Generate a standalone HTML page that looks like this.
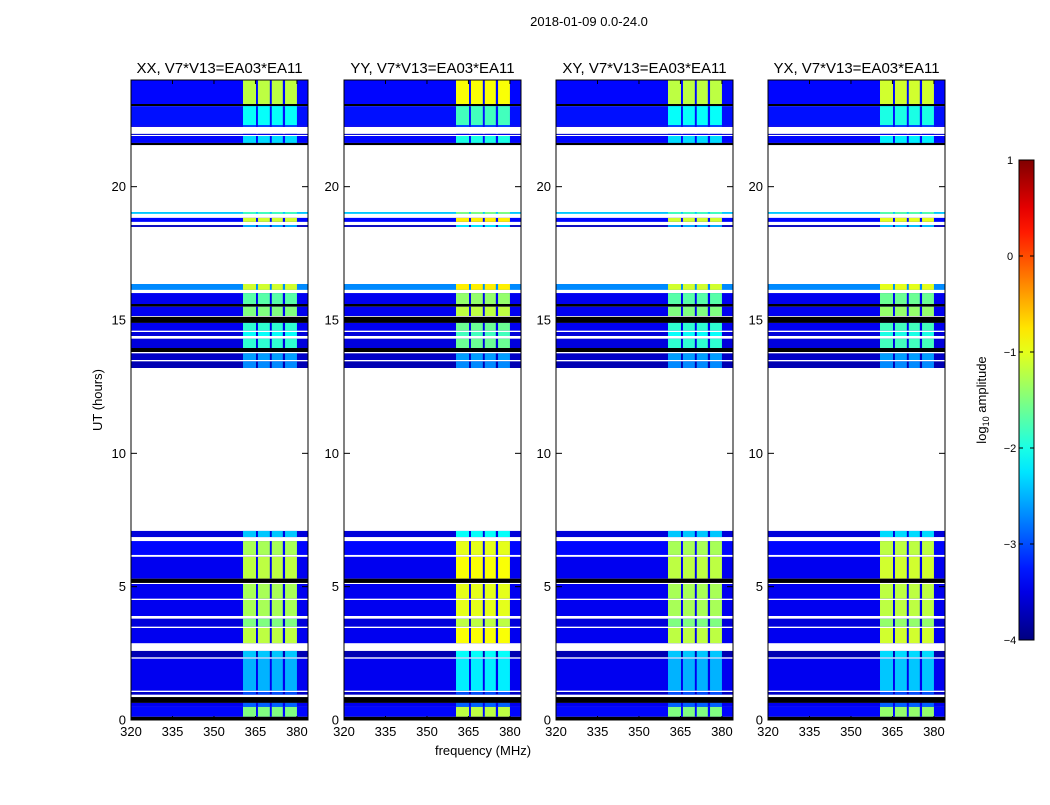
<!DOCTYPE html>
<html><head><meta charset="utf-8"><style>
body{margin:0;background:#fff;font-family:"Liberation Sans",sans-serif}
svg text{font-family:"Liberation Sans","DejaVu Sans",sans-serif}
</style></head><body>
<svg id="chart" width="1050" height="800" xmlns="http://www.w3.org/2000/svg">
<rect width="1050" height="800" fill="#fff"/>
<text x="589" y="26" font-size="13" text-anchor="middle">2018-01-09 0.0-24.0</text>
<text x="483" y="755" font-size="13" text-anchor="middle">frequency (MHz)</text>
<text x="102" y="400" font-size="13" text-anchor="middle" transform="rotate(-90 102 400)">UT (hours)</text>
<g id="panels"></g>
<g id="cbar"></g>
<text x="986" y="400" font-size="13" text-anchor="middle" transform="rotate(-90 986 400)">log<tspan font-size="9" dy="3">10</tspan><tspan dy="-3"> amplitude</tspan></text>
</svg>
<script>
const panelTitles=["XX, V7*V13=EA03*EA11","YY, V7*V13=EA03*EA11","XY, V7*V13=EA03*EA11","YX, V7*V13=EA03*EA11"];
const panelBandOffset=[0,0.3,0,0.1];
const xTicks=[320,335,350,365,380];
const yTicks=[0,5,10,15,20];
const cbarTicks=[1,0,-1,-2,-3,-4];
const bandRanges=[[360.5,365.2],[365.9,370.2],[370.9,374.9],[375.7,380]];
// [startHour, endHour, background log-amp, band log-amp]
const segments=[
[24.0,23.10,-3.35,-1.2],[23.10,23.02,-4.6,-4.6],[23.02,22.31,-3.3,-2.1],[22.31,22.24,-3.45,-3.0],
[21.98,21.94,-3.6,-3.5],[21.90,21.64,-3.35,-2.3],[21.64,21.56,-4.6,-4.6],
[19.05,18.98,-2.4,-1.8],[18.83,18.68,-3.35,-1.1],[18.56,18.49,-3.7,-2.5],
[16.35,16.13,-2.7,-1.1],[16.01,15.6,-3.45,-1.7],[15.6,15.5,-4.6,-4.6],[15.5,15.15,-3.45,-1.5],
[15.12,14.89,-4.6,-4.6],[14.89,14.6,-3.45,-1.9],[14.55,14.4,-3.55,-2.1],[14.3,13.95,-3.55,-1.9],
[13.95,13.8,-4.6,-4.6],[13.75,13.5,-3.65,-2.6],[13.45,13.2,-3.75,-2.7],
[7.09,6.86,-3.55,-2.4],[6.71,6.19,-3.35,-1.3],[6.12,5.3,-3.45,-1.2],[5.3,5.14,-4.6,-4.6],
[5.1,4.55,-3.45,-1.3],[4.5,3.9,-3.45,-1.3],[3.8,3.5,-3.55,-1.5],[3.45,2.88,-3.45,-1.2],
[2.59,2.35,-3.75,-2.4],[2.3,1.1,-3.45,-2.5],[1.05,0.95,-3.65,-3.0],[0.86,0.64,-4.6,-4.6],
[0.64,0.49,-3.45,-2.9],[0.49,0.12,-3.35,-1.5],[0.12,0,-4.6,-4.6]
];
const NS="http://www.w3.org/2000/svg";
const panelLefts=[131,344,556,768],PW=177,PT=80,PB=720;
const fMin=320,fMax=384;
function jet(v){
  if(v<=-4.5) return "#000";
  let t=Math.max(0,Math.min(1,(v+4)/5));
  const f=x=>Math.round(255*Math.max(0,Math.min(1,x)));
  return `rgb(${f(1.5-Math.abs(4*t-3))},${f(1.5-Math.abs(4*t-2))},${f(1.5-Math.abs(4*t-1))})`;
}
function mk(tag,attrs,parent){const e=document.createElementNS(NS,tag);for(const k in attrs)e.setAttribute(k,attrs[k]);parent.appendChild(e);return e;}
const root=document.getElementById("panels");
panelTitles.forEach((title,p)=>{
  const L=panelLefts[p];
  const xs=f=>L+(f-fMin)/(fMax-fMin)*PW;
  const ys=h=>PB-h/24*(PB-PT);
  const g=mk("g",{},root);
  
  
  segments.forEach(s=>{
    const y0=ys(s[0]),y1=ys(s[1]);
    const r=mk("rect",{x:L,y:y0,width:PW,height:Math.max(0.8,y1-y0),fill:jet(s[2])},g);
    
    
    if(s[3]>-4.5){
      bandRanges.forEach(b=>{
        const br=mk("rect",{x:xs(b[0]),y:y0,width:xs(b[1])-xs(b[0]),height:Math.max(0.8,y1-y0),fill:jet(s[3]+(s[3]>-2.6?panelBandOffset[p]:0))},g);
        
        
      });
    }
  });
  mk("rect",{x:L,y:PT,width:PW,height:PB-PT,fill:"none",stroke:"#000","stroke-width":1},g);
  const t=mk("text",{x:L+PW/2,y:PT-7,"font-size":15,"text-anchor":"middle"},g);
  t.textContent=title;
  
  
  xTicks.forEach(v=>{
    const x=xs(v);
    mk("line",{x1:x,x2:x,y1:PB,y2:PB-4,stroke:"#000"},g);
    mk("line",{x1:x,x2:x,y1:PT,y2:PT+4,stroke:"#000"},g);
    const tl=mk("text",{x:x,y:PB+16,"font-size":13,"text-anchor":"middle"},g);
    tl.textContent=v;
    
    
  });
  yTicks.forEach(v=>{
    const y=ys(v);
    mk("line",{x1:L,x2:L+6,y1:y,y2:y,stroke:"#000"},g);
    mk("line",{x1:L+PW-6,x2:L+PW,y1:y,y2:y,stroke:"#000"},g);
    const tl=mk("text",{x:L-5,y:y+4.5,"font-size":13,"text-anchor":"end"},g);
    tl.textContent=v;
    
    
  });
});
const cb=document.getElementById("cbar");
const CX=1019,CW=15,CT=160,CB=640;
const defs=mk("defs",{},cb);
const grad=mk("linearGradient",{id:"jetg",x1:0,y1:1,x2:0,y2:0},defs);
for(let i=0;i<=20;i++){mk("stop",{offset:i/20,"stop-color":jet(-4+5*i/20)},grad);}
mk("rect",{x:CX,y:CT,width:CW,height:CB-CT,fill:"url(#jetg)",stroke:"#000"},cb);
cbarTicks.forEach(v=>{
  const y=CB-(v+4)/5*(CB-CT);
  mk("line",{x1:CX,x2:CX+4,y1:y,y2:y,stroke:"#000"},cb);
  mk("line",{x1:CX+CW-4,x2:CX+CW,y1:y,y2:y,stroke:"#000"},cb);
  const tl=mk("text",{x:1010,y:y+4,"font-size":11,"text-anchor":"middle"},cb);
  tl.textContent=v<0?"\u2212"+(-v):v;
  
  
});
</script>
</body></html>
